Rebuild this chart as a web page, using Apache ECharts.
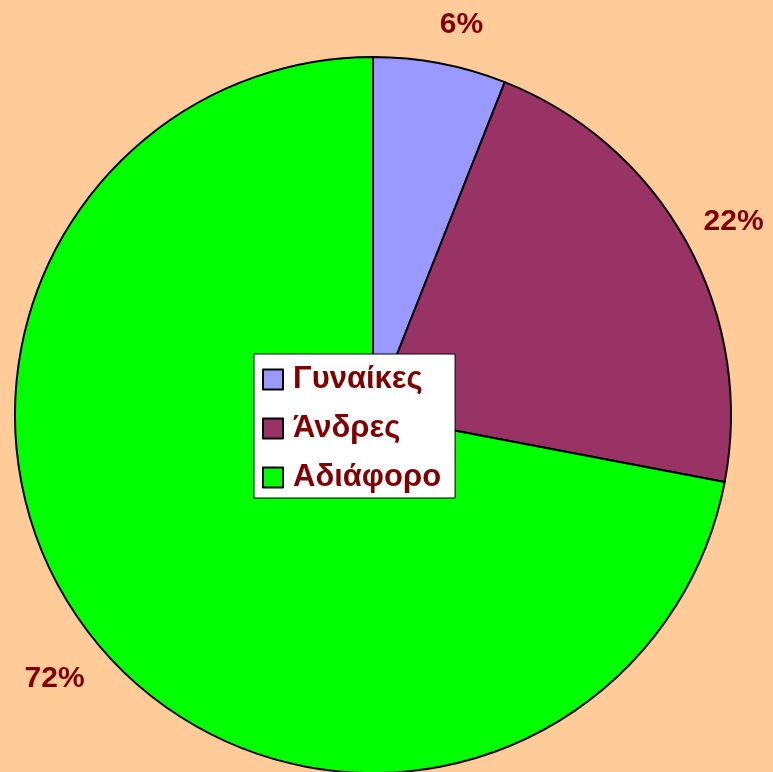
<!DOCTYPE html>
<html><head><meta charset="utf-8">
<script src="https://cdn.jsdelivr.net/npm/echarts@6/dist/echarts.min.js"></script>
<style>html,body{margin:0;padding:0;background:#FFCC99}#c{width:773px;height:772px}</style>
</head><body><div id="c"></div>
<script>
const categories = ['Γυναίκες', 'Άνδρες', 'Αδιάφορο'];
const values = [6, 22, 72];
const colors = ['#9999FF', '#993366', '#00FF00'];
const labelNudge = [[12, 11], [3, 3], [-4, 4]];

const chart = echarts.init(document.getElementById('c'), null, {renderer: 'canvas'});
const data = categories.map((n, i) => ({name: n, value: values[i], itemStyle: {color: colors[i]}}));
const labelData = categories.map((n, i) => ({name: n, value: values[i], label: {offset: labelNudge[i]}}));
chart.setOption({
  backgroundColor: '#FFCC99',
  animation: false,
  legend: {
    orient: 'vertical',
    left: 254, top: 354,
    backgroundColor: '#FFFFFF',
    borderColor: '#000000', borderWidth: 1,
    padding: [10, 14, 5, 8],
    itemWidth: 20, itemHeight: 20, itemGap: 18,
    icon: 'rect',
    itemStyle: {borderColor: '#000', borderWidth: 2},
    selectedMode: false,
    data: categories,
    textStyle: {color: '#800000', fontSize: 31, fontWeight: 'bold', fontFamily: 'Liberation Sans, Arial, sans-serif', lineHeight: 30, padding: [0, 0, 0, 5]}
  },
  series: [{
    type: 'pie',
    center: [373, 415], radius: [0, 358],
    startAngle: 90, clockwise: true,
    label: {show: false}, labelLine: {show: false},
    itemStyle: {borderColor: '#000', borderWidth: 2},
    emphasis: {disabled: true},
    data: data
  }, {
    type: 'pie',
    center: [373, 415], radius: [400, 410],
    startAngle: 90, clockwise: true, silent: true,
    itemStyle: {color: 'rgba(0,0,0,0)'},
    emphasis: {disabled: true},
    labelLine: {show: false},
    label: {show: true, position: 'inside', formatter: '{c}%', color: '#800000', fontSize: 30, fontWeight: 'bold', fontFamily: 'Liberation Sans, Arial, sans-serif'},
    data: labelData
  }]
});
</script></body></html>
